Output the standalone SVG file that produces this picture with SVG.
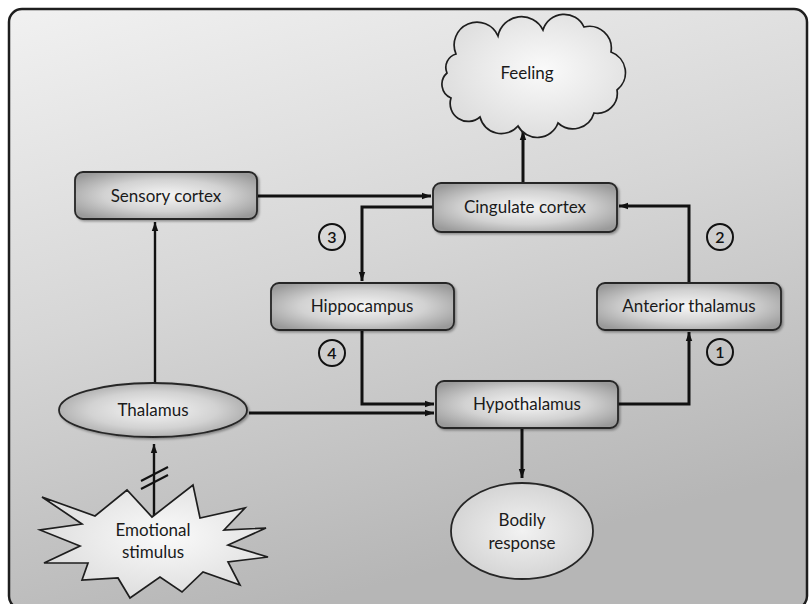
<svg xmlns="http://www.w3.org/2000/svg" width="809" height="604" viewBox="0 0 809 604">
  <defs>
    <linearGradient id="bg" x1="0" y1="0" x2="0.35" y2="1">
      <stop offset="0" stop-color="#f1f1f1"/>
      <stop offset="0.5" stop-color="#d6d6d6"/>
      <stop offset="1" stop-color="#b6b6b6"/>
    </linearGradient>
    <radialGradient id="boxFill" cx="50%" cy="50%" r="62%">
      <stop offset="0" stop-color="#f6f6f6"/>
      <stop offset="0.55" stop-color="#d2d2d2"/>
      <stop offset="1" stop-color="#9a9a9a"/>
    </radialGradient>
    <radialGradient id="softFill" cx="50%" cy="50%" r="60%">
      <stop offset="0" stop-color="#f2f2f2"/>
      <stop offset="1" stop-color="#cfcfcf"/>
    </radialGradient>
    <radialGradient id="cloudFill" cx="55%" cy="45%" r="60%">
      <stop offset="0" stop-color="#fafafa"/>
      <stop offset="1" stop-color="#dcdcdc"/>
    </radialGradient>
    <filter id="shadow" x="-10%" y="-20%" width="125%" height="150%">
      <feDropShadow dx="1.5" dy="1.5" stdDeviation="1" flood-color="#000" flood-opacity="0.35"/>
    </filter>
    <marker id="arrow" markerUnits="userSpaceOnUse" markerWidth="10" markerHeight="8" refX="9" refY="4" orient="auto">
      <path d="M0,0.8 L9,4 L0,7.2 z" fill="#111"/>
    </marker>
    <style>
      .frame { fill: url(#bg); stroke: #1e1e1e; stroke-width: 2.5; }
      .box { fill: url(#boxFill); stroke: #262626; stroke-width: 1.8; filter: url(#shadow); }
      .soft { fill: url(#softFill); stroke: #262626; stroke-width: 1.8; }
      .cloud { fill: url(#cloudFill); stroke: #1e1e1e; stroke-width: 1.7; }
      .label { font-family: "Lato", "Open Sans", "Liberation Sans", sans-serif; font-size: 17px; fill: #1a1a1a; text-anchor: middle; }
      .num { font-family: "Lato", "Liberation Sans", sans-serif; font-size: 16px; font-weight: 600; fill: #111; text-anchor: middle; }
      .ring { fill: none; stroke: #111; stroke-width: 2; }
      .wire { fill: none; stroke: #111; stroke-width: 3; marker-end: url(#arrow); }
      .thin { fill: none; stroke: #111; stroke-width: 2.4; marker-end: url(#arrow); }
      .tick { stroke: #111; stroke-width: 2; }
    </style>
  </defs>

  <!-- panel -->
  <rect class="frame" x="9" y="9" width="798" height="600" rx="13" ry="13"/>

  <!-- connectors -->
  <g id="connectors">
    <path class="wire" d="M258,196 H431"/>
    <path class="wire" d="M523,183 V131"/>
    <path class="wire" d="M433,207 H362 V281"/>
    <path class="wire" d="M362,330 V404 H434"/>
    <path class="wire" d="M249,413 H434"/>
    <path class="wire" d="M618,404 H689 V332"/>
    <path class="wire" d="M689,283 V206 H619"/>
    <path class="thin" d="M155,383 V222"/>
    <path class="thin" d="M154,517 V444"/>
    <path class="wire" d="M522,428 V478"/>
    <line class="tick" x1="141" y1="481" x2="168" y2="467"/>
    <line class="tick" x1="141" y1="489" x2="168" y2="475"/>
  </g>

  <!-- step markers -->
  <g id="step-1"><circle class="ring" cx="720" cy="352" r="13"/><text class="num" x="720" y="357.5">1</text></g>
  <g id="step-2"><circle class="ring" cx="720" cy="237" r="13"/><text class="num" x="720" y="242.5">2</text></g>
  <g id="step-3"><circle class="ring" cx="332" cy="237" r="13"/><text class="num" x="332" y="242.5">3</text></g>
  <g id="step-4"><circle class="ring" cx="332" cy="353" r="13"/><text class="num" x="332" y="358.5">4</text></g>

  <!-- nodes -->
  <g id="feeling">
    <path class="cloud" d="M456,54
      A22,22 0 0 1 498,36
      A24,24 0 0 1 543,30
      A22,22 0 0 1 584,27
      A22,22 0 0 1 611,52
      A22,22 0 0 1 617,90
      A20,20 0 0 1 594,113
      A22,22 0 0 1 558,123
      A22,22 0 0 1 518,126
      A22,22 0 0 1 480,117
      A18,18 0 0 1 451,98
      A15,15 0 0 1 447,73
      A14,14 0 0 1 456,54 Z"/>
    <text class="label" x="527" y="79">Feeling</text>
  </g>

  <g id="sensory-cortex">
    <rect class="box" x="75" y="172" width="182" height="47" rx="8"/>
    <text class="label" x="166" y="202">Sensory cortex</text>
  </g>

  <g id="cingulate-cortex">
    <rect class="box" x="433" y="183" width="184" height="49" rx="8"/>
    <text class="label" x="525" y="213">Cingulate cortex</text>
  </g>

  <g id="hippocampus">
    <rect class="box" x="271" y="283" width="183" height="47" rx="8"/>
    <text class="label" x="362" y="312">Hippocampus</text>
  </g>

  <g id="anterior-thalamus">
    <rect class="box" x="597" y="283" width="184" height="47" rx="8"/>
    <text class="label" x="689" y="312">Anterior thalamus</text>
  </g>

  <g id="hypothalamus">
    <rect class="box" x="436" y="381" width="182" height="47" rx="8"/>
    <text class="label" x="527" y="410">Hypothalamus</text>
  </g>

  <g id="thalamus">
    <ellipse class="box" cx="153" cy="410" rx="94" ry="27"/>
    <text class="label" x="153" y="416">Thalamus</text>
  </g>

  <g id="bodily-response">
    <ellipse class="soft" cx="522" cy="531" rx="71" ry="48"/>
    <text class="label" x="522" y="526">Bodily</text>
    <text class="label" x="522" y="549">response</text>
  </g>

  <g id="emotional-stimulus">
    <polygon class="cloud" points="42,497 95,516 127,490 152,517 193,485 200,518 245,508 224,530 266,528 228,545 268,557 228,562 240,585 203,572 182,592 160,577 130,598 118,578 82,580 88,563 44,563 80,546 40,530 82,524"/>
    <text class="label" x="153" y="536">Emotional</text>
    <text class="label" x="153" y="558">stimulus</text>
  </g>
</svg>
